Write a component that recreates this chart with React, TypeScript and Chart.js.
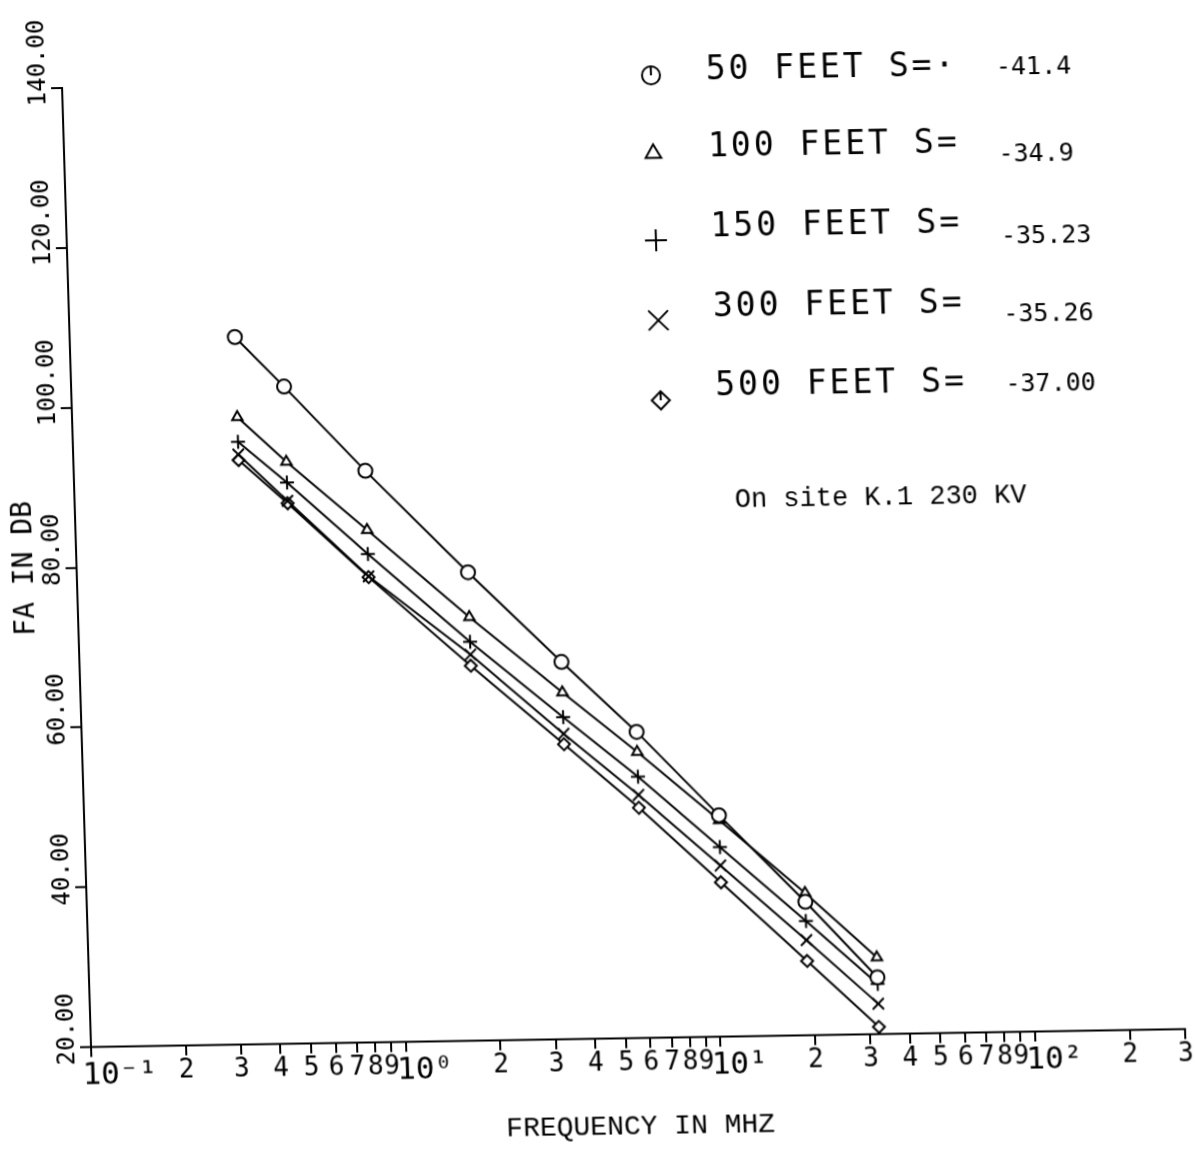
import React, { useEffect, useRef } from 'react';
import { Chart, registerables } from 'chart.js';
import { drawPoint } from 'chart.js/helpers';

Chart.register(...registerables);

// ---------- data ----------
const FREQ_MHZ = [0.335, 0.475, 0.845, 1.75, 3.4, 5.8, 10.4, 19.2, 32];
const FA_50FT = [108.5, 102.2, 91.5, 78.6, 67.2, 58.3, 47.7, 36.7, 27.1];
const FA_100FT = [98.5, 92.8, 84.1, 73.0, 63.4, 55.8, 47.1, 37.8, 29.6];
const FA_150FT = [95.4, 90.2, 81.1, 69.9, 60.3, 52.7, 43.7, 34.3, 26.3];
const FA_300FT = [93.8, 87.9, 78.3, 68.3, 58.2, 50.4, 41.4, 31.9, 23.8];
const FA_500FT = [93.1, 87.6, 78.2, 66.9, 56.9, 48.8, 39.3, 29.3, 20.9];

const SERIES_LABELS = ['50 FEET S=·', '100 FEET S=', '150 FEET S=', '300 FEET S=', '500 FEET S='];
const SERIES_SLOPES = ['-41.4', '-34.9', '-35.23', '-35.26', '-37.00'];
const NOTE_TEXT = 'On site K.1 230 KV';

const X_TICKS = [
  0.1, 0.2, 0.3, 0.4, 0.5, 0.6, 0.7, 0.8, 0.9,
  1, 2, 3, 4, 5, 6, 7, 8, 9,
  10, 20, 30, 40, 50, 60, 70, 80, 90,
  100, 200, 300,
];
const X_TICK_LABELS = [
  '10⁻¹', '2', '3', '4', '5', '6', '7', '8', '9',
  '10⁰', '2', '3', '4', '5', '6', '7', '8', '9',
  '10¹', '2', '3', '4', '5', '6', '7', '8', '9',
  '10²', '2', '3',
];
const Y_TICKS = [20, 40, 60, 80, 100, 120, 140];
const X_TITLE = 'FREQUENCY IN MHZ';
const Y_TITLE = 'FA IN DB';

// ---------- styles ----------
const MONO = "'DejaVu Sans Mono', monospace";
const TYPE = "'Liberation Mono', 'Courier New', monospace";
const SERIES = [FA_50FT, FA_100FT, FA_150FT, FA_300FT, FA_500FT];
const POINT_STYLES = ['circle', 'triangle', 'cross', 'crossRot', 'rectRot'];
const POINT_RADII = [7, 6, 7, 8, 6];
const LEGEND_RADII = [9, 9, 11, 14, 9];
const LEGEND_MARK = { x: 680, y: [85, 163, 250, 330, 410] };
const LEGEND_TEXT = { x: 735, y: [81, 158, 238, 318, 397] };
const LEGEND_VALUE = { x: 1025, y: [83, 170, 252, 330, 400] };
const NOTE_POS = { x: 751, y: 511 };

const isDecade = (i: number) => (X_TICK_LABELS[i] || '').startsWith('10');

const legendPlugin = {
  id: 'sideLegend',
  afterDraw(chart: any) {
    const ctx = chart.ctx as CanvasRenderingContext2D;
    ctx.save();
    chart.data.datasets.forEach((ds: any, i: number) => {
      ctx.save();
      ctx.strokeStyle = '#000';
      ctx.fillStyle = '#fff';
      ctx.lineWidth = 2;
      const mx = LEGEND_MARK.x;
      const my = LEGEND_MARK.y[i];
      drawPoint(ctx, { pointStyle: ds.pointStyle, radius: LEGEND_RADII[i], rotation: 0, borderWidth: 2 } as any, mx, my);
      if (ds.pointStyle === 'circle' || ds.pointStyle === 'rectRot') {
        ctx.beginPath();
        ctx.moveTo(mx, my - LEGEND_RADII[i]);
        ctx.lineTo(mx, my);
        ctx.stroke();
      }
      ctx.restore();

      ctx.fillStyle = '#000';
      ctx.textBaseline = 'middle';
      ctx.textAlign = 'left';
      ctx.font = `33px ${MONO}`;
      (ctx as any).letterSpacing = '3px';
      ctx.fillText(ds.label, LEGEND_TEXT.x, LEGEND_TEXT.y[i]);
      (ctx as any).letterSpacing = '0px';
      ctx.font = `25px ${MONO}`;
      ctx.fillText(SERIES_SLOPES[i], LEGEND_VALUE.x, LEGEND_VALUE.y[i]);
    });
    ctx.font = `27px ${TYPE}`;
    ctx.fillStyle = '#000';
    ctx.textBaseline = 'middle';
    ctx.textAlign = 'left';
    ctx.fillText(NOTE_TEXT, NOTE_POS.x, NOTE_POS.y);
    ctx.restore();
  },
};

export default function App() {
  const ref = useRef<HTMLCanvasElement>(null);

  useEffect(() => {
    document.body.style.overflow = 'hidden';
    Chart.defaults.color = '#000';
    Chart.defaults.font.family = MONO;

    const datasets = SERIES.map((values, i) => ({
      label: SERIES_LABELS[i],
      data: FREQ_MHZ.map((f, j) => ({ x: f, y: values[j] })),
      borderColor: '#000',
      borderWidth: 2,
      pointStyle: POINT_STYLES[i],
      pointRadius: POINT_RADII[i],
      pointBorderWidth: 2,
      pointBorderColor: '#000',
      pointBackgroundColor: '#fff',
      tension: 0,
      fill: false,
    }));

    const chart = new Chart(ref.current as HTMLCanvasElement, {
      type: 'line',
      data: { datasets } as any,
      options: {
        responsive: false,
        animation: false,
        devicePixelRatio: 1,
        layout: { padding: { left: 56, right: 6, top: 88, bottom: 0 } },
        plugins: { legend: { display: false }, tooltip: { enabled: false } },
        scales: {
          x: {
            type: 'logarithmic',
            min: 0.1,
            max: 300,
            afterBuildTicks: (s: any) => {
              s.ticks = X_TICKS.map((v) => ({ value: v }));
            },
            afterFit: (s: any) => {
              s.height = 103;
              s.paddingLeft = 0;
              s.paddingRight = 0;
            },
            grid: { drawOnChartArea: false, drawTicks: true, tickLength: 10, color: '#000', lineWidth: 2 },
            border: { display: true, color: '#000', width: 2 },
            ticks: {
              autoSkip: false,
              minRotation: 0,
              maxRotation: 0,
              padding: 0,
              color: '#000',
              callback: (_v: any, i: number) => {
                const l = X_TICK_LABELS[i];
                return isDecade(i) ? ' '.repeat(l.length - 1) + l : l;
              },
              font: (c: any) => ({ family: MONO, size: isDecade(c.index) ? 31 : 26 }),
            },
            title: {
              display: true,
              text: X_TITLE,
              color: '#000',
              font: { family: TYPE, size: 28, lineHeight: 1 },
              padding: 0,
            },
          },
          y: {
            type: 'linear',
            min: 20,
            max: 140,
            afterBuildTicks: (s: any) => {
              s.ticks = Y_TICKS.map((v) => ({ value: v }));
            },
            afterFit: (s: any) => {
              s.width = 35;
              s.paddingTop = 0;
              s.paddingBottom = 0;
            },
            grid: { drawOnChartArea: false, drawTicks: true, tickLength: 11, color: '#000', lineWidth: 2 },
            border: { display: true, color: '#000', width: 2 },
            ticks: {
              minRotation: 90,
              maxRotation: 90,
              crossAlign: 'far',
              align: 'start',
              labelOffset: 18,
              color: '#000',
              font: { family: MONO, size: 24 },
              callback: (v: any) => Number(v).toFixed(2),
            },
            title: {
              display: true,
              text: Y_TITLE,
              color: '#000',
              font: { family: MONO, size: 28, lineHeight: 1 },
              padding: { top: -30, bottom: 0 },
            },
          },
        },
      } as any,
      plugins: [legendPlugin],
    });
    return () => chart.destroy();
  }, []);

  return (
    <div
      style={{
        position: 'absolute',
        left: 0,
        top: 0,
        width: 1195,
        height: 1150,
        transform: 'matrix(1, -0.0164, 0.0302, 1, 0, 0)',
        transformOrigin: '91px 1047px',
      }}
    >
      <canvas ref={ref} width={1195} height={1150} style={{ display: 'block', width: 1195, height: 1150 }} />
    </div>
  );
}
